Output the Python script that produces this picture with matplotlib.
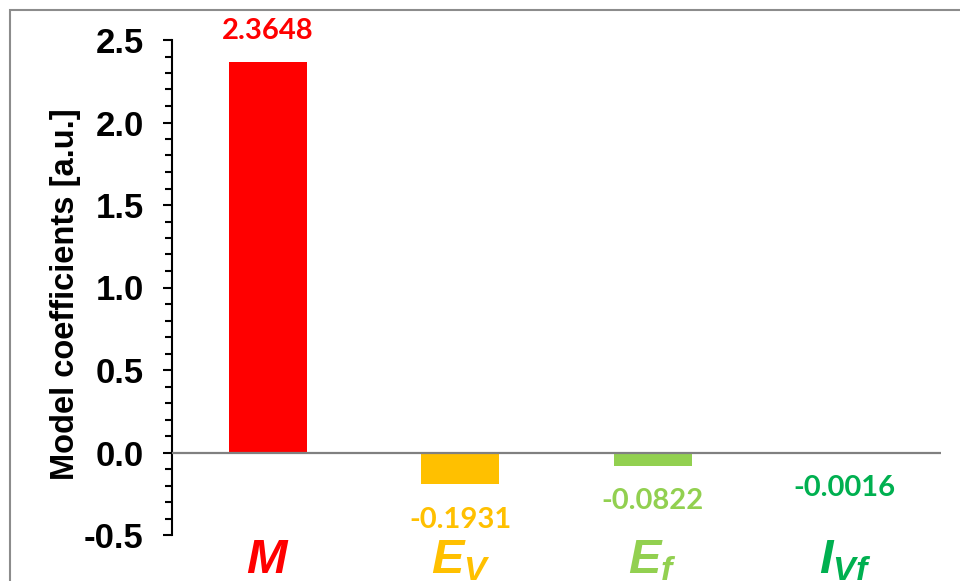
import matplotlib.pyplot as plt
from matplotlib.patches import Rectangle
from matplotlib.ticker import MultipleLocator

# data
names = ["$M$", "$E_V$", "$E_f$", "$I_{Vf}$"]
coefs = [2.3648, -0.1931, -0.0822, -0.0016]
labels = ["2.3648", "-0.1931", "-0.0822", "-0.0016"]
colors = ["#FF0000", "#FFC000", "#92D050", "#00B050"]

plt.rcParams['font.family'] = ['Liberation Sans', 'DejaVu Sans']
plt.rcParams['mathtext.fontset'] = 'custom'
plt.rcParams['mathtext.it'] = 'Liberation Sans:italic:bold'
plt.rcParams['mathtext.rm'] = 'Liberation Sans:bold'
plt.rcParams['mathtext.bf'] = 'Liberation Sans:bold'

fig = plt.figure(figsize=(9.6, 5.81), dpi=100)
ax = fig.add_axes([172/960, 1-535/581, (941-172)/960, (535-40)/581])

# outer frame (cropped at right/bottom)
fig.patches.append(Rectangle((10/960, -0.1), 1.2, 1-10/581+0.1, transform=fig.transFigure,
                             fill=False, edgecolor="#8c8c8c", linewidth=1.5))

x = range(len(coefs))
ax.bar(x, coefs, width=0.405, color=colors, zorder=2)
ax.axhline(0, color="#808080", linewidth=1.6, zorder=3)

for i, v in enumerate(coefs):
    if v > 0:
        ax.annotate(labels[i], (i, v), xytext=(0, 13), textcoords="offset points",
                    ha="center", va="bottom", color=colors[i], fontsize=21,
                    fontweight="bold", family=["Lato", "DejaVu Sans"])
    else:
        ax.annotate(labels[i], (i, v), xytext=(0, -16), textcoords="offset points",
                    ha="center", va="top", color=colors[i], fontsize=21,
                    fontweight="bold", family=["Lato", "DejaVu Sans"])

ax.set_xlim(-0.5, 3.5)
ax.set_ylim(-0.5, 2.5)
ax.yaxis.set_major_locator(MultipleLocator(0.5))
ax.yaxis.set_minor_locator(MultipleLocator(0.1))
ax.yaxis.set_major_formatter(plt.FormatStrFormatter("%.1f"))
ax.tick_params(axis="y", which="major", length=6.5, width=1.5, labelsize=25, pad=14)
ax.tick_params(axis="y", which="minor", length=5, width=1.5)
for t in ax.get_yticklabels():
    t.set_fontweight("bold")

ax.set_xticks(list(x))
ax.set_xticklabels(names, fontsize=35)
ax.tick_params(axis="x", length=0, pad=2)
for t, c in zip(ax.get_xticklabels(), colors):
    t.set_color(c)

ax.set_ylabel("Model coefficients [a.u.]", fontsize=23.5, fontweight="bold")
ax.yaxis.set_label_coords(-0.118, 0.486)

for s in ["top", "right", "bottom"]:
    ax.spines[s].set_visible(False)
ax.spines["left"].set_linewidth(1.5)

fig.savefig("out.png", dpi=100)
